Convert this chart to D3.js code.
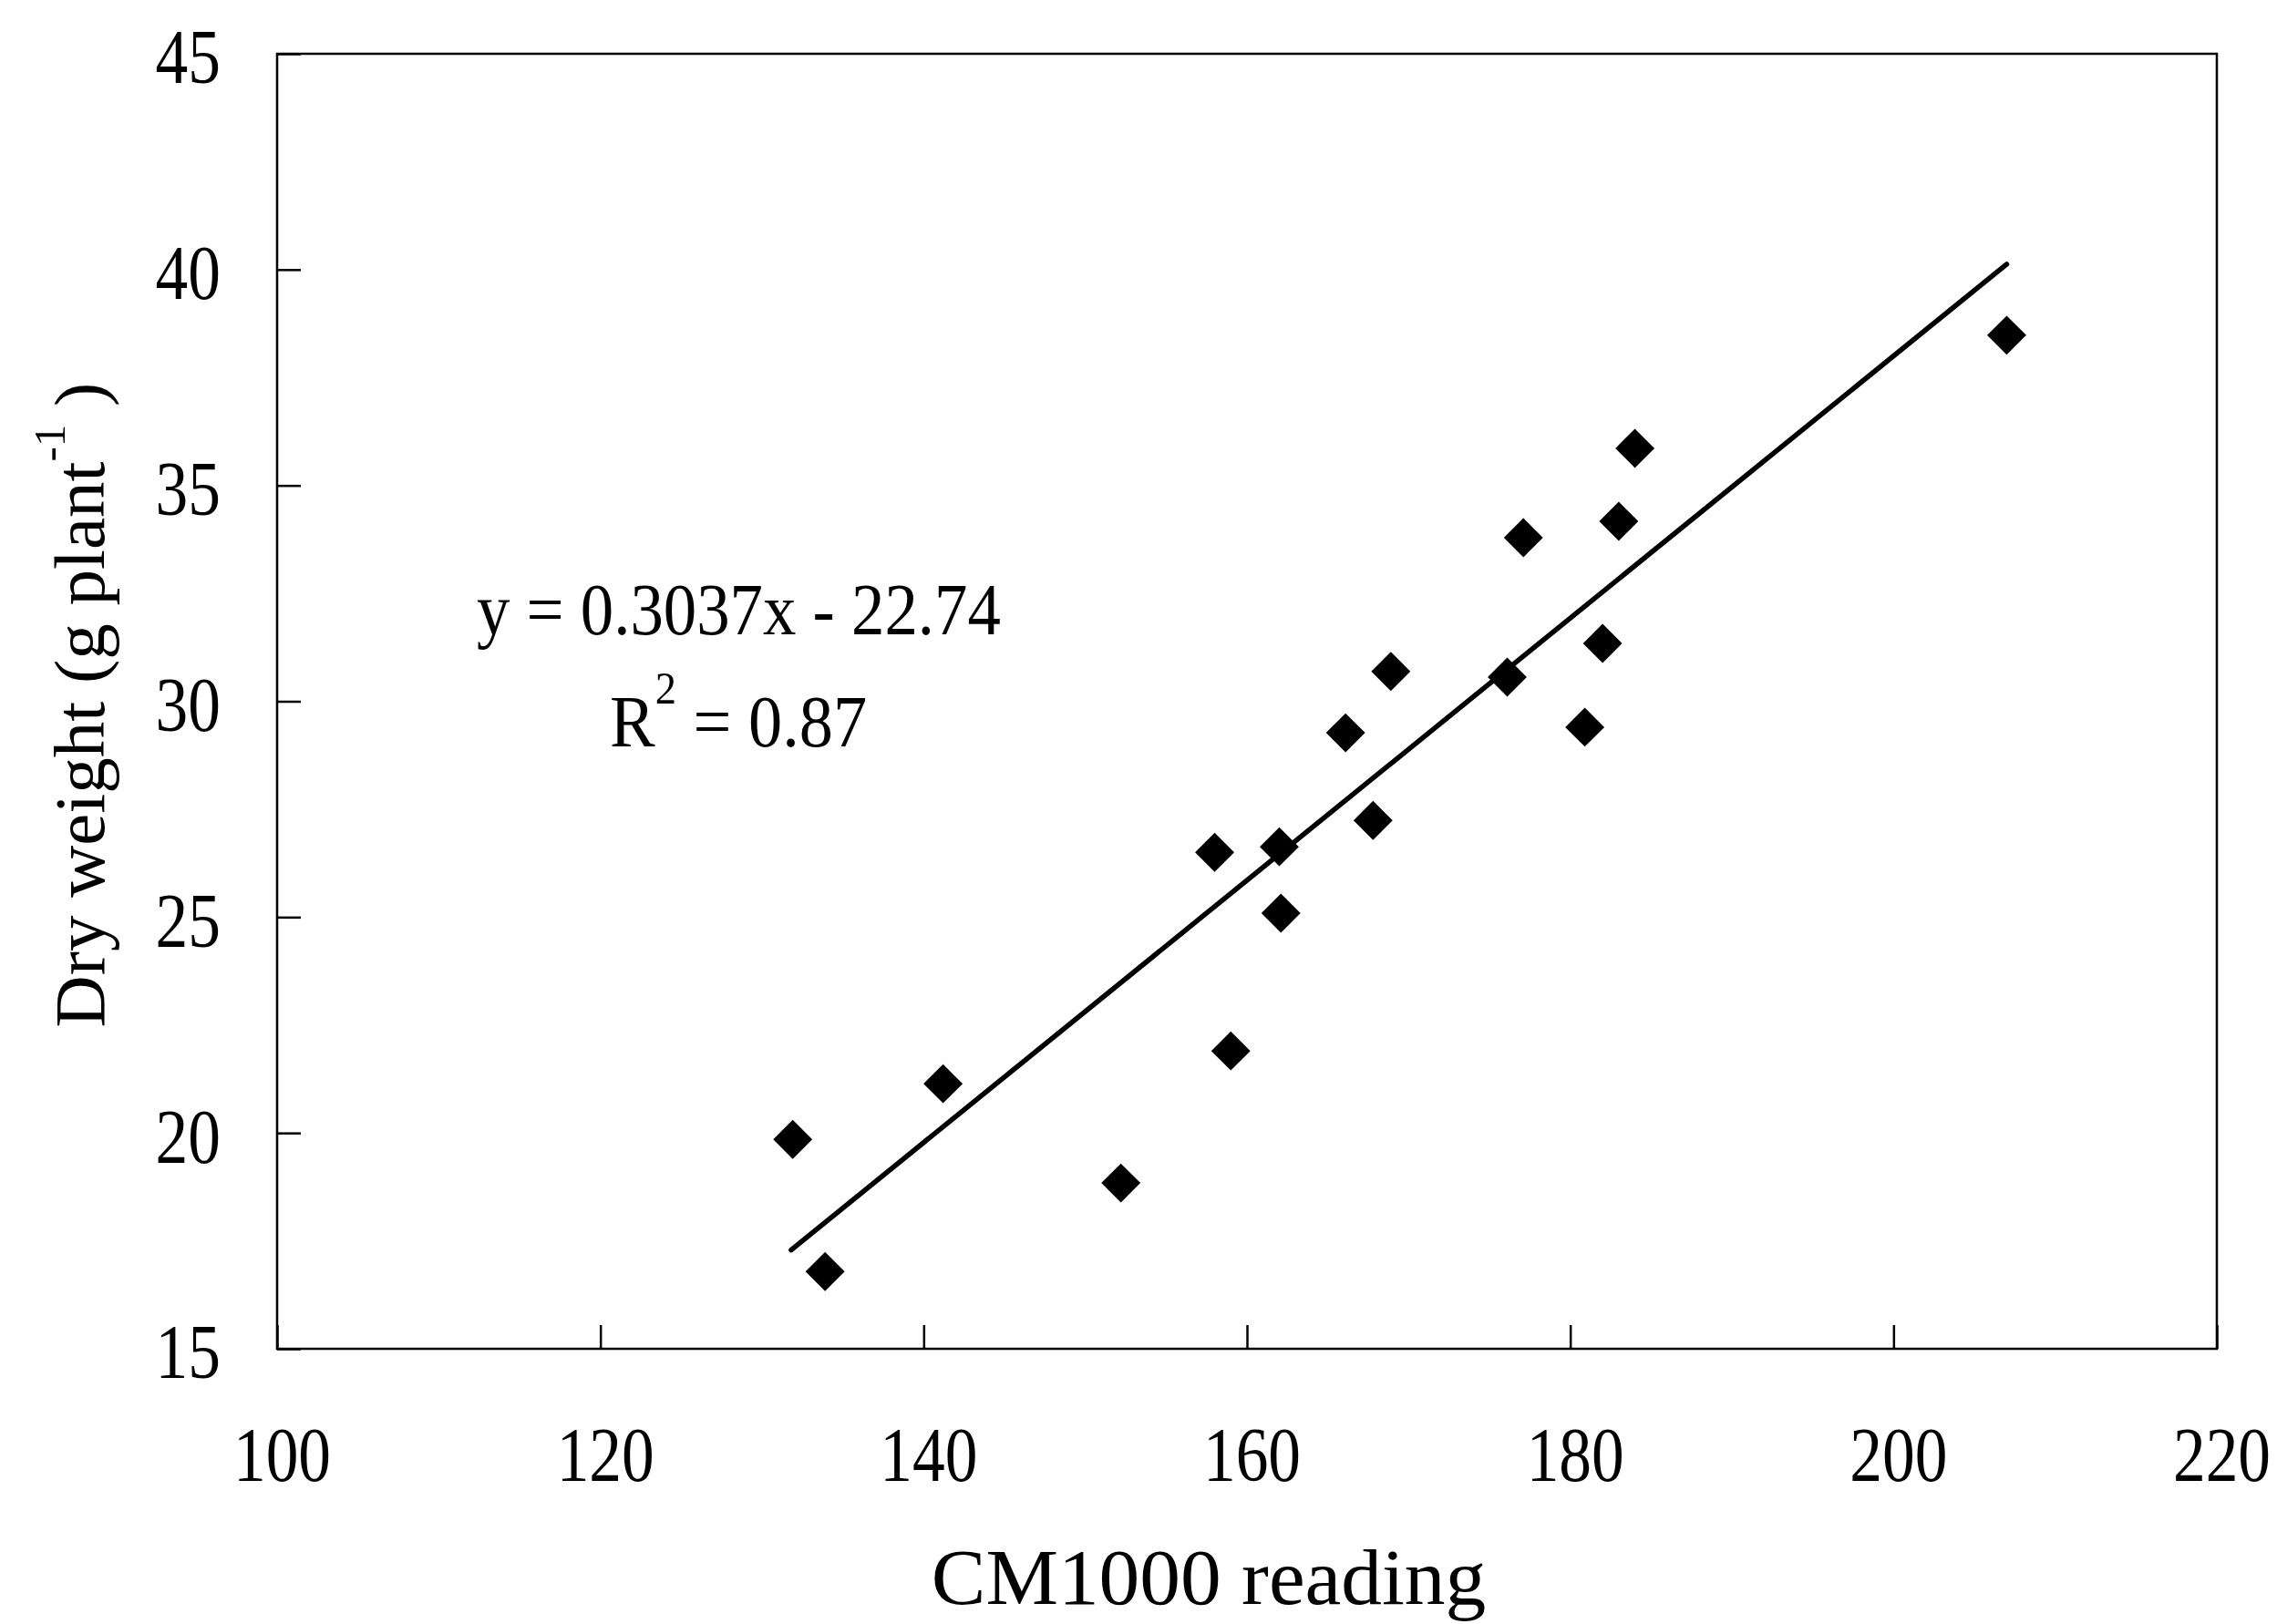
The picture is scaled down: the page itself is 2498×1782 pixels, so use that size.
<!DOCTYPE html>
<html>
<head>
<meta charset="utf-8">
<script src="https://cdn.jsdelivr.net/npm/d3@7"></script>
<style>
  html, body { margin: 0; padding: 0; background: #fff; }
  svg { display: block; }
  text { font-family: "Liberation Serif", "Times New Roman", serif; fill: #000; }
</style>
</head>
<body>
<svg id="chart" width="2498" height="1782"></svg>
<script>
// ---- data ----
const cmReading = [131.9, 133.9, 141.2, 152.2, 158.0, 159.0, 162.0, 162.1, 166.1, 167.8, 168.9, 176.1, 177.1, 180.9, 182.0, 183.0, 184.0, 207.0];
const dryWeight = [19.85, 16.79, 21.14, 18.84, 26.50, 21.90, 26.63, 25.09, 29.27, 27.24, 30.69, 30.56, 33.79, 29.40, 31.34, 34.17, 35.86, 38.48];
const xTicks = [100, 120, 140, 160, 180, 200, 220];
const yTicks = [15, 20, 25, 30, 35, 40, 45];
const fitSlope = 0.3037;
const fitIntercept = -22.74;
const fitXRange = [131.8, 207.0];
const equationText = "y = 0.3037x - 22.74";
const r2Value = "0.87";
const xLabel = "CM1000 reading";

// ---- layout ----
const svg = d3.select("#chart");
const plotLeft = 304, plotRight = 2432, plotTop = 59, plotBottom = 1480;

const x = d3.scaleLinear().domain([100, 220]).range([plotLeft, plotRight]);
const y = d3.scaleLinear().domain([15, 45]).range([plotBottom, plotTop]);

// frame
svg.append("rect")
  .attr("x", plotLeft).attr("y", plotTop)
  .attr("width", plotRight - plotLeft).attr("height", plotBottom - plotTop)
  .attr("fill", "none").attr("stroke", "#000").attr("stroke-width", 2.5);

// x axis
const gx = svg.append("g")
  .attr("transform", `translate(0,${plotBottom})`)
  .call(d3.axisBottom(x).tickValues(xTicks).tickSizeInner(-26).tickSizeOuter(0).tickFormat(d3.format("d")));
gx.select(".domain").remove();
gx.selectAll(".tick line").attr("stroke", "#000").attr("stroke-width", 2.5);
gx.selectAll(".tick text")
  .attr("y", null).attr("dy", null)
  .attr("transform", "translate(5,145) scale(0.85,1)")
  .attr("font-size", 84)
  .attr("font-family", "Liberation Serif")
  .attr("text-anchor", "middle");

// y axis
const gy = svg.append("g")
  .attr("transform", `translate(${plotLeft},0)`)
  .call(d3.axisLeft(y).tickValues(yTicks).tickSizeInner(-26).tickSizeOuter(0).tickFormat(d3.format("d")));
gy.select(".domain").remove();
gy.selectAll(".tick line").attr("stroke", "#000").attr("stroke-width", 2.5);
gy.selectAll(".tick text")
  .attr("x", null).attr("dy", "0.38em")
  .attr("transform", "translate(-62,0) scale(0.85,1)")
  .attr("font-size", 84)
  .attr("font-family", "Liberation Serif")
  .attr("text-anchor", "end");

// regression line
svg.append("line")
  .attr("x1", x(fitXRange[0])).attr("y1", y(fitSlope * fitXRange[0] + fitIntercept))
  .attr("x2", x(fitXRange[1])).attr("y2", y(fitSlope * fitXRange[1] + fitIntercept))
  .attr("stroke", "#000").attr("stroke-width", 5.5).attr("stroke-linecap", "round");

// points (diamonds)
const pts = cmReading.map((v, i) => ({ x: v, y: dryWeight[i] }));
const diamond = d3.symbol().type(d3.symbolSquare).size(920);
svg.append("g").selectAll("path")
  .data(pts)
  .join("path")
  .attr("d", diamond)
  .attr("transform", d => `translate(${x(d.x)},${y(d.y)}) rotate(45)`)
  .attr("fill", "#000");

// equation
svg.append("text")
  .attr("transform", "translate(523,696) scale(0.91,1)")
  .attr("font-size", 80)
  .text(equationText);

const r2 = svg.append("text")
  .attr("transform", "translate(669,819) scale(0.93,1)")
  .attr("font-size", 80);
r2.append("tspan").text("R");
r2.append("tspan").attr("font-size", 50).attr("dy", -47).text("2");
r2.append("tspan").attr("dy", 47).text(" = " + r2Value);

// y axis label
const yl = svg.append("text")
  .attr("transform", `translate(114,${(plotTop + plotBottom) / 2 + 4}) rotate(-90)`)
  .attr("text-anchor", "middle")
  .attr("font-size", 79);
yl.append("tspan").text("Dry weight (g plant");
yl.append("tspan").attr("font-size", 49).attr("dy", -43).text("-1");
yl.append("tspan").attr("dy", 43).text(" )");

// x axis label
svg.append("text")
  .attr("transform", "translate(1326,1760) scale(1.04,1)")
  .attr("text-anchor", "middle")
  .attr("font-size", 86)
  .text(xLabel);
</script>
</body>
</html>
